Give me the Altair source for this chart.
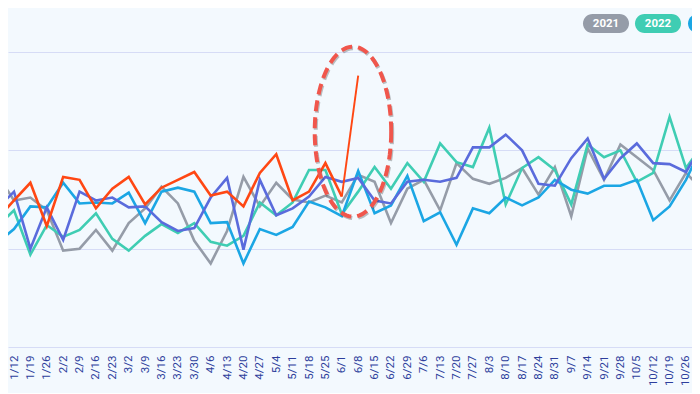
import math
import altair as alt
import pandas as pd

# Week labels (index 0 = 1/5 ... index 43 = 11/2)
weeks = ["1/5", "1/12", "1/19", "1/26", "2/2", "2/9", "2/16", "2/23", "3/2", "3/9",
         "3/16", "3/23", "3/30", "4/6", "4/13", "4/20", "4/27", "5/4", "5/11", "5/18",
         "5/25", "6/1", "6/8", "6/15", "6/22", "6/29", "7/6", "7/13", "7/20", "7/27",
         "8/3", "8/10", "8/17", "8/24", "8/31", "9/7", "9/14", "9/21", "9/28", "10/5",
         "10/12", "10/19", "10/26", "11/2"]

s2021 = [175, 149, 152, 139, 98, 100, 119, 98, 126, 141, 163, 146, 108, 85, 118, 173,
         143, 167, 150, 147, 154, 147, 175, 168, 126, 161, 170, 139, 187, 171, 166, 172,
         182, 155, 183, 133, 202, 170, 206, 193, 180, 149, 177, 160]
s2022 = [123, 139, 94, 124, 112, 119, 136, 110, 98, 113, 125, 116, 126, 107, 103, 113,
         147, 134, 147, 180, 180, 135, 158, 183, 161, 187, 168, 207, 188, 183, 223, 145,
         182, 193, 180, 145, 206, 193, 200, 168, 177, 234, 182, 205]
s2023 = [106, 120, 143, 142, 167, 146, 147, 146, 157, 126, 158, 162, 158, 126, 127, 85,
         120, 114, 122, 148, 142, 133, 179, 136, 144, 174, 128, 137, 104, 141, 136, 152,
         144, 152, 170, 160, 156, 164, 164, 170, 129, 143, 170, 205]
s2024 = [141, 158, 100, 142, 109, 158, 149, 152, 142, 143, 127, 118, 121, 152, 172, 99,
         170, 134, 141, 153, 173, 168, 172, 149, 146, 168, 170, 168, 172, 203, 203, 216,
         200, 166, 164, 192, 212, 171, 192, 207, 187, 186, 178, 206]
s2025 = [131, 149, 167, 123, 173, 170, 141, 161, 173, 145, 162, 170, 178, 154, 158, 143,
         177, 196, 149, 158, 187, 153, 276]

years = ["2021", "2022", "2023", "2024", "2025"]
colors = ["#959ca8", "#3fcdb3", "#1ba6e4", "#5a6bdc", "#ff4713"]
series = [s2021, s2022, s2023, s2024, s2025]

rows = []
for yr, vals in zip(years, series):
    for i, v in enumerate(vals):
        rows.append({"week": i, "label": weeks[i], "year": yr, "value": v})
df = pd.DataFrame(rows)

W, H = 684, 295
step = 16.39
lo = 1 - 6 / step
hi = lo + W / step

label_expr = "[" + ",".join("'%s'" % w for w in weeks) + "][datum.value]"

x_enc = alt.X("week:Q", scale=alt.Scale(domain=[lo, hi], nice=False, zero=False),
              axis=alt.Axis(values=list(range(1, 44)), tickCount=100, labelExpr=label_expr,
                            labelAngle=-90, labelColor="#2d3e9c", labelFontSize=11.5,
                            labelFont="Roboto", labelPadding=8, labelOverlap=False,
                            labelBound=False, labelFlush=False, ticks=False, domain=False,
                            grid=False, title=None))
y_enc = alt.Y("value:Q", scale=alt.Scale(domain=[0, 300], nice=False),
              axis=alt.Axis(values=[0, 100, 200, 300], labels=False, ticks=False, domain=False,
                            gridColor="#d6dcf6", gridWidth=1, title=None))
color_enc = alt.Color("year:N", scale=alt.Scale(domain=years, range=colors), legend=None)

base = alt.Chart(df)
main = base.transform_filter("datum.year != '2025' || datum.week <= 21").mark_line(
    strokeWidth=2.6, clip=True, strokeJoin="miter").encode(
    x=x_enc, y=y_enc, color=color_enc, order=alt.Order("week:Q"))
spike = base.transform_filter("datum.year == '2025' && datum.week >= 21").mark_line(
    strokeWidth=1.9, clip=True, color="#ff4713").encode(x="week:Q", y="value:Q")

# dashed ellipse annotation
pts = []
for k in range(0, 360, 4):
    t = math.radians(k)
    pts.append("%.4f,%.4f" % (0.45 * math.cos(t), math.sin(t)))
ellipse_path = "M" + " L".join(pts) + " Z"
ann = pd.DataFrame({"week": [21.68], "value": [219]})
shadow = alt.Chart(ann).mark_point(shape=ellipse_path, size=28900, filled=False, opacity=1,
                                   stroke="#333333", strokeOpacity=0.3, strokeWidth=4,
                                   strokeDash=[11, 6], xOffset=1, yOffset=1.5).encode(
    x="week:Q", y="value:Q")
ellipse = alt.Chart(ann).mark_point(shape=ellipse_path, size=28900, filled=False, opacity=1,
                                    stroke="#f0564c", strokeOpacity=1, strokeWidth=4,
                                    strokeDash=[11, 6]).encode(x="week:Q", y="value:Q")

# pill legend
legend_years = ["2021", "2022", "2023"]
legend_colors = ["#959ca8", "#3fcdb3", "#1ba6e4"]
legend_x = [575, 627, 680]
pills = []
for yr, c, px in zip(legend_years, legend_colors, legend_x):
    d = pd.DataFrame({"t": [yr]})
    pills.append(alt.Chart(d).mark_rect(color=c, cornerRadius=9.5).encode(
        x=alt.value(px), x2=alt.value(px + 46), y=alt.value(-38), y2=alt.value(-19)))
    pills.append(alt.Chart(d).mark_text(color="white", font="Roboto", fontWeight="bold",
                                        fontSize=11.5).encode(
        x=alt.value(px + 23), y=alt.value(-28.5), text="t:N"))

chart = alt.layer(main, spike, shadow, ellipse, *pills).properties(
    width=W, height=H, background="#f3f9fe",
    padding={"left": 0, "top": 44, "right": 0, "bottom": 46},
    autosize=alt.AutoSizeParams(type="none"),
).configure_view(stroke=None)

chart.save("out.html", embed_options={"renderer": "svg", "actions": False})
